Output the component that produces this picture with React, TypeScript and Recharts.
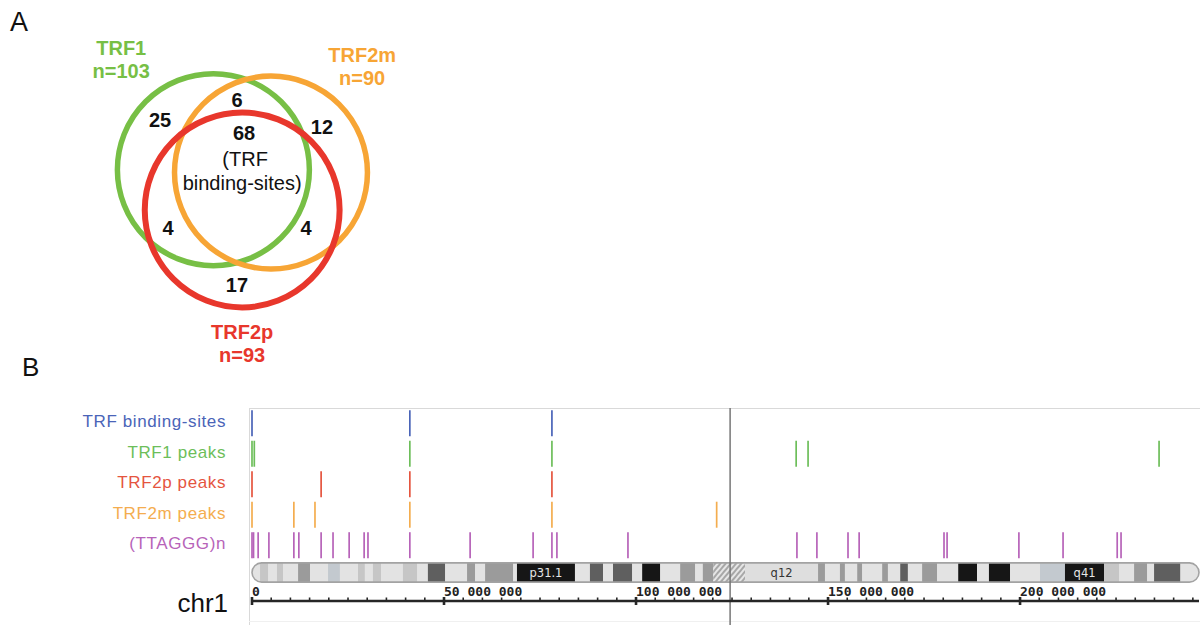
import React from "react";
import {
  ScatterChart,
  Scatter,
  XAxis,
  YAxis,
  ReferenceArea,
  ReferenceLine,
} from "recharts";

const FONT = '"Liberation Sans", Arial, Helvetica, sans-serif';
const MONO = '"DejaVu Sans Mono", "Liberation Mono", monospace';

// ---------- Panel A: Venn of peak sets ----------
const vennSets = ["TRF1", "TRF2m", "TRF2p"];
const vennSetSizes = [103, 90, 93];
const vennSetColors = ["#77bf45", "#f7a535", "#e8372c"];
// circle layout, in units of one circle radius (origin = TRF2p centre)
const vennCircleX = [-0.3, 0.3, 0];
const vennCircleY = [-0.42, -0.39, 0];
const vennCircleR = [1.0, 1.005, 1.015];
const vennTitleX = [-1.26, 1.25, 0];
const vennTitleY = [-1.615, -1.542, 1.344];

// region counts: TRF1 only, TRF1∩TRF2m, TRF2m only, all three, TRF1∩TRF2p, TRF2m∩TRF2p, TRF2p only
const regionCounts = [25, 6, 12, 68, 4, 4, 17];
const regionX = [-0.856, -0.054, 0.831, 0.02, -0.773, 0.665, -0.054];
const regionY = [-0.865, -1.073, -0.792, -0.729, 0.26, 0.26, 0.854];
const coreNote = ["(TRF", "binding-sites)"];

const VENN_W = 450;
const VENN_H = 380;
const VENN_X_DOMAIN: [number, number] = [-2.523, 2.165];
const VENN_Y_DOMAIN: [number, number] = [-2.1875, 1.771];
const UNIT_PX = VENN_W / (VENN_X_DOMAIN[1] - VENN_X_DOMAIN[0]);

// ---------- Panel B: chr1 browser view ----------
const chrLengthMb = 246.6;
const centromereMb = 124.5;
const trackNames = [
  "TRF binding-sites",
  "TRF1 peaks",
  "TRF2p peaks",
  "TRF2m peaks",
  "(TTAGGG)n",
];
const trackColors = ["#4a64b8", "#6dbe5a", "#e5553f", "#f4ad4f", "#b763b9"];
const trackRows = [0.5, 1.5, 2.5, 3.5, 4.5];

const bindingSitesMb = [0.0, 41.1, 78.1];
const trf1PeaksMb = [0.0, 0.6, 41.1, 78.1, 141.7, 144.8, 236.2];
const trf2pPeaksMb = [0.0, 18.0, 41.1, 78.1];
const trf2mPeaksMb = [0.0, 10.9, 16.4, 41.1, 78.1, 121.0];
const telomericRepeatsMb = [
  0.0, 0.4, 1.6, 4.4, 10.9, 12.2, 18.0, 21.1, 25.3, 29.2, 30.2, 41.1, 56.8,
  73.2, 78.1, 79.4, 97.9, 141.9, 147.1, 155.2, 158.1, 180.2, 181.0, 199.7,
  211.2, 225.3, 226.3,
];
const trackPositions = [
  bindingSitesMb,
  trf1PeaksMb,
  trf2pPeaksMb,
  trf2mPeaksMb,
  telomericRepeatsMb,
];

// cytoband edges (Mb) and stains
const bandEdgesMb = [
  0, 2.1, 4.2, 6.5, 8.1, 12.0, 15.1, 19.8, 22.9, 27.6, 29.4, 31.5, 33.6, 39.3,
  43.0, 45.8, 50.3, 56.0, 58.1, 60.7, 68.0, 69.0, 84.1, 88.0, 91.4, 94.0, 99.0,
  101.6, 106.3, 111.5, 115.4, 117.4, 120.1, 128.4, 147.4, 149.2, 153.1, 154.4,
  157.6, 158.9, 164.1, 165.6, 168.8, 170.8, 174.5, 178.4, 183.9, 188.8, 191.9,
  197.4, 205.2, 211.7, 221.9, 225.8, 229.7, 233.1, 234.9, 241.7, 246.6,
];
const bandStains = [
  "gneg", "gpos25", "gneg", "gpos25", "gneg", "gpos50", "gneg", "gvar",
  "gneg", "gpos25", "gneg", "gpos25", "gneg", "gpos25", "gneg", "gpos75",
  "gneg", "gpos50", "gneg", "gpos50", "gneg", "gpos100", "gneg", "gpos75",
  "gneg", "gpos75", "gneg", "gpos100", "gneg", "gpos50", "gneg", "gpos50",
  "acen", "q12", "gpos50", "gneg", "gpos50", "gneg", "gpos50", "gneg",
  "gpos50", "gneg", "gpos75", "gneg", "gpos50", "gneg", "gpos100", "gneg",
  "gpos100", "gneg", "gvar", "gpos100", "gpos25", "gneg", "gpos50", "gneg",
  "gpos75", "gneg",
];
const bandLabels: Record<number, string> = { 21: "p31.1", 33: "q12", 51: "q41" };

const axisTicksMb = Array.from({ length: 50 }, (_, i) => i * 5);
const majorTickLabels: Record<number, string> = {
  0: "0",
  50: "50 000 000",
  100: "100 000 000",
  150: "150 000 000",
  200: "200 000 000",
};

const stainFill: Record<string, string> = {
  gneg: "#e3e3e3",
  q12: "#dedede",
  gpos25: "#c6c6c6",
  gvar: "#c3c9cf",
  gpos50: "#9b9b9b",
  gpos75: "#5f5f5f",
  gpos100: "#161616",
  acen: "url(#acenHatch)",
};

const IDEO_Y1 = 5.08;
const IDEO_Y2 = 5.71;

function capsule(p: any, fill: string, stroke: string) {
  const r = p.height / 2;
  return (
    <rect
      x={p.x}
      y={p.y}
      width={p.width}
      height={p.height}
      rx={r}
      ry={r}
      fill={fill}
      stroke={stroke}
      strokeWidth={1.6}
    />
  );
}

function VennPanel() {
  return (
    <ScatterChart
      width={VENN_W}
      height={VENN_H}
      margin={{ top: 0, right: 0, bottom: 0, left: 0 }}
    >
      <XAxis type="number" dataKey="x" domain={VENN_X_DOMAIN} hide />
      <YAxis type="number" dataKey="y" domain={VENN_Y_DOMAIN} reversed hide />
      {vennSets.map((name, i) => (
        <Scatter
          key={name}
          data={[{ x: vennCircleX[i], y: vennCircleY[i], r: vennCircleR[i] }]}
          isAnimationActive={false}
          shape={(p: any) => (
            <circle
              cx={p.cx}
              cy={p.cy}
              r={p.payload.r * UNIT_PX}
              fill="none"
              stroke={vennSetColors[i]}
              strokeWidth={i === 2 ? 6 : 5.5}
            />
          )}
        />
      ))}
      <Scatter
        data={vennSets.map((name, i) => ({
          x: vennTitleX[i],
          y: vennTitleY[i],
          name,
          n: vennSetSizes[i],
          color: vennSetColors[i],
        }))}
        isAnimationActive={false}
        shape={(p: any) => (
          <text
            x={p.cx}
            y={p.cy}
            textAnchor="middle"
            fontFamily={FONT}
            fontWeight="bold"
            fontSize={20}
            fill={p.payload.color}
          >
            <tspan x={p.cx}>{p.payload.name}</tspan>
            <tspan x={p.cx} dy={23}>{`n=${p.payload.n}`}</tspan>
          </text>
        )}
      />
      <Scatter
        data={regionCounts.map((c, i) => ({ x: regionX[i], y: regionY[i], c }))}
        isAnimationActive={false}
        shape={(p: any) => (
          <g>
            <text
              x={p.cx}
              y={p.cy}
              textAnchor="middle"
              fontFamily={FONT}
              fontWeight="bold"
              fontSize={20}
              fill="#111"
            >
              {p.payload.c}
            </text>
            {p.payload.c === 68 &&
              coreNote.map((line, k) => (
                <text
                  key={line}
                  x={p.cx - (k === 1 ? 2 : -1)}
                  y={p.cy + 26 + k * 24}
                  textAnchor="middle"
                  fontFamily={FONT}
                  fontSize={20}
                  fill="#111"
                >
                  {line}
                </text>
              ))}
          </g>
        )}
      />
    </ScatterChart>
  );
}

function TrackLabel(props: any) {
  const { x, y, payload } = props;
  const i = trackRows.indexOf(payload.value);
  return (
    <text
      x={x}
      y={y}
      dy={4}
      textAnchor="end"
      fontFamily={FONT}
      fontSize={17}
      letterSpacing={0.6}
      fill={trackColors[i]}
    >
      {trackNames[i]}
    </text>
  );
}

function AxisTick(props: any) {
  const { x, y, payload } = props;
  const label = majorTickLabels[payload.value];
  const major = label !== undefined;
  return (
    <g>
      <line
        x1={x}
        x2={x}
        y1={major ? y - 4 : y - 3.5}
        y2={major ? y + 4 : y}
        stroke="#262626"
        strokeWidth={major ? 2.6 : 1.6}
      />
      {major && (
        <text
          x={x}
          y={y - 5}
          fontFamily={MONO}
          fontWeight="bold"
          fontSize={13}
          fill="#222"
        >
          {label}
        </text>
      )}
    </g>
  );
}

function GenomePanel() {
  const lastBand = bandStains.length - 1;
  return (
    <ScatterChart
      width={1200}
      height={225}
      margin={{ top: 8, right: 1, bottom: 0, left: 0 }}
    >
      <XAxis
        type="number"
        dataKey="x"
        domain={[0, chrLengthMb]}
        ticks={axisTicksMb}
        interval={0}
        height={24}
        tickLine={false}
        tickSize={0}
        tickMargin={0}
        axisLine={{ stroke: "#262626", strokeWidth: 2.5 }}
        tick={(p: any) => <AxisTick {...p} />}
      />
      <YAxis
        type="number"
        dataKey="y"
        domain={[0, 6.33]}
        reversed
        ticks={trackRows}
        interval={0}
        width={252}
        axisLine={false}
        tickLine={false}
        tickSize={0}
        tickMargin={26}
        tick={(p: any) => <TrackLabel {...p} />}
      />
      <ReferenceArea
        x1={0}
        x2={chrLengthMb}
        y1={IDEO_Y1}
        y2={IDEO_Y2}
        shape={(p: any) => capsule(p, stainFill.gneg, "none")}
      />
      {bandStains.map((stain, i) =>
        i === 0 || i === lastBand ? null : (
          <ReferenceArea
            key={i}
            x1={bandEdgesMb[i]}
            x2={bandEdgesMb[i + 1]}
            y1={IDEO_Y1}
            y2={IDEO_Y2}
            fill={stainFill[stain]}
            fillOpacity={1}
            stroke="none"
            label={
              bandLabels[i]
                ? {
                    value: bandLabels[i],
                    position: "center",
                    fill: stain === "gpos100" ? "#e6e6e6" : "#333",
                    fontSize: 11.5,
                    fontFamily: '"DejaVu Sans", sans-serif',
                  }
                : undefined
            }
          />
        ),
      )}
      <ReferenceArea
        x1={0}
        x2={chrLengthMb}
        y1={IDEO_Y1}
        y2={IDEO_Y2}
        shape={(p: any) => capsule(p, "none", "#a3a3a3")}
      />
      {trackPositions.map((positions, i) => (
        <Scatter
          key={trackNames[i]}
          data={positions.map((x) => ({ x, y: trackRows[i] }))}
          isAnimationActive={false}
          shape={(p: any) => (
            <line
              x1={p.cx}
              x2={p.cx}
              y1={p.cy - 13}
              y2={p.cy + 13}
              stroke={trackColors[i]}
              strokeWidth={1.7}
            />
          )}
        />
      ))}
      <ReferenceLine
        segment={[
          { x: centromereMb, y: 0 },
          { x: centromereMb, y: 7.12 },
        ]}
        ifOverflow="visible"
        stroke="#777"
        strokeWidth={1.5}
      />
    </ScatterChart>
  );
}

export default function App() {
  return (
    <div
      style={{
        position: "relative",
        width: 1200,
        height: 625,
        background: "#fff",
        overflow: "hidden",
        fontFamily: FONT,
      }}
    >
      <style>{"body{margin:0}"}</style>
      <svg
        width={1200}
        height={625}
        style={{ position: "absolute", left: 0, top: 0 }}
      >
        <defs>
          <pattern
            id="acenHatch"
            width="4"
            height="4"
            patternUnits="userSpaceOnUse"
            patternTransform="rotate(40)"
          >
            <rect width="4" height="4" fill="#e6e6e6" />
            <line x1="1" y1="0" x2="1" y2="4" stroke="#8c8c8c" strokeWidth="1.4" />
          </pattern>
        </defs>
        <text x={10} y={31} fontFamily={FONT} fontSize={27} fill="#111">
          A
        </text>
        <text x={22} y={376} fontFamily={FONT} fontSize={26} fill="#111">
          B
        </text>
        <line x1={249.5} y1={408} x2={249.5} y2={625} stroke="#d9d9d9" />
        <line x1={249} y1={408.5} x2={1200} y2={408.5} stroke="#d9d9d9" />
        <line x1={249} y1={621.5} x2={1200} y2={621.5} stroke="#f0f0f0" />
        <text
          x={228}
          y={612}
          textAnchor="end"
          fontFamily={FONT}
          fontSize={26}
          fill="#111"
        >
          chr1
        </text>
      </svg>
      <div style={{ position: "absolute", left: 0, top: 0 }}>
        <VennPanel />
      </div>
      <div style={{ position: "absolute", left: 0, top: 400 }}>
        <GenomePanel />
      </div>
    </div>
  );
}
